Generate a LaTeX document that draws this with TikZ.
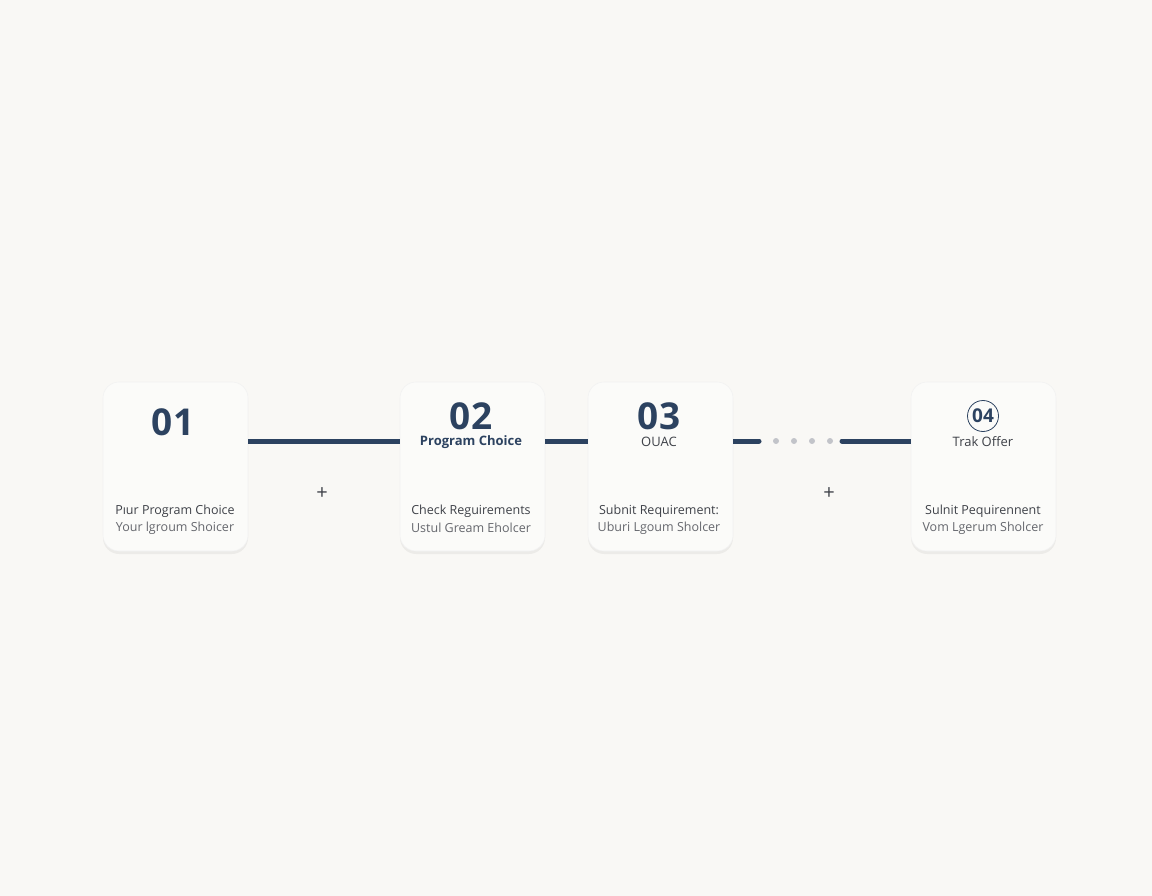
\documentclass[tikz,border=0pt]{standalone}
\usepackage{fontspec}
\setmainfont{Open Sans}
\usetikzlibrary{calc,shadows}
\definecolor{bg}{HTML}{F9F8F5}
\definecolor{cardfill}{HTML}{FBFBF9}
\definecolor{navy}{HTML}{2C4260}
\definecolor{bodytxt}{HTML}{3E4148}
\definecolor{dotgray}{HTML}{C2C4C9}
\tikzset{
  card/.style={draw=black!5, line width=0.6pt, fill=cardfill, rounded corners=16pt,
    minimum width=145pt, minimum height=169pt, inner sep=0pt,
    drop shadow={shadow xshift=0pt, shadow yshift=-3pt, opacity=0.05, fill=black}},
  bignum/.style={text=navy, font=\fontsize{37}{40}\selectfont\bfseries, inner sep=0pt,
    text depth=0pt, anchor=base},
  title/.style={text=navy, font=\fontsize{13}{15}\selectfont\bfseries, inner sep=0pt},
  titlelight/.style={text=bodytxt, font=\fontsize{13}{15}\selectfont, inner sep=0pt},
  body/.style={text=bodytxt, font=\fontsize{12.5}{14}\selectfont, inner sep=0pt},
  body2/.style={text=bodytxt!80, font=\fontsize{12.5}{14}\selectfont, inner sep=0pt},
  link/.style={draw=navy, line width=5pt},
  dotmark/.style={circle, fill=dotgray, inner sep=0pt, minimum size=6pt},
  plusmark/.style={text=bodytxt, font=\fontsize{20}{20}\selectfont, inner sep=0pt},
}
\begin{document}
\begin{tikzpicture}[x=1pt,y=-1pt]
\fill[bg] (0,0) rectangle (1152,896);
\useasboundingbox (0,0) rectangle (1152,896);

% cards
\node[card] (c1) at (175.5,466.5) {};
\node[card] (c2) at (472.5,466.5) {};
\node[card] (c3) at (660.5,466.5) {};
\node[card] (c4) at (983.5,466.5) {};

% connectors
\coordinate (e3) at (759,441);
\coordinate (s4) at (842,441);
\draw[link] ([yshift=25.5pt]c1.east) -- ([yshift=25.5pt]c2.west);
\draw[link] ([yshift=25.5pt]c2.east) -- ([yshift=25.5pt]c3.west);
\draw[link] ([yshift=25.5pt]c3.east) -- (e3);
\draw[navy, line width=5pt, line cap=round] ([xshift=-3pt]e3) -- (e3);
\draw[link] (s4) -- ([yshift=25.5pt]c4.west);
\draw[navy, line width=5pt, line cap=round] (s4) -- ([xshift=3pt]s4);
\node[dotmark] (d1) at (776,441) {};
\node[dotmark] (d2) at (794,441) {};
\node[dotmark] (d3) at (812,441) {};
\node[dotmark] (d4) at (830,441) {};

% plus signs
\node[plusmark] (p1) at (322,494) {+};
\node[plusmark] (p2) at (829,494) {+};

% card 1
\node[bignum] (n1) at (173,435) {01};
\node[body] (b1a) at (175,511) {Pıur Program Choice};
\node[body2] (b1b) at (175,528) {Your lgroum Shoicer};

% card 2
\node[bignum] (n2) at (471,429) {02};
\node[title] (t2) at (471,442) {Program Choice};
\node[body] (b2a) at (471,511) {Check Reguirements};
\node[body2] (b2b) at (471,528) {Ustul Gream Eholcer};

% card 3
\node[bignum] (n3) at (659,429) {03};
\node[titlelight] (t3) at (659,442) {OUAC};
\node[body] (b3a) at (659,511) {Subnit Requirement:};
\node[body2] (b3b) at (659,528) {Uburi Lgoum Sholcer};

% card 4
\node[circle, draw=navy, line width=0.8pt, minimum size=31pt, inner sep=0pt,
      text=navy, font=\fontsize{19}{20}\selectfont\bfseries] (n4) at (983,416) {04};
\node[titlelight] (t4) at (983,442) {Trak Offer};
\node[body] (b4a) at (983,511) {Sulnit Pequirennent};
\node[body2] (b4b) at (983,528) {Vom Lgerum Sholcer};
\end{tikzpicture}
\end{document}
